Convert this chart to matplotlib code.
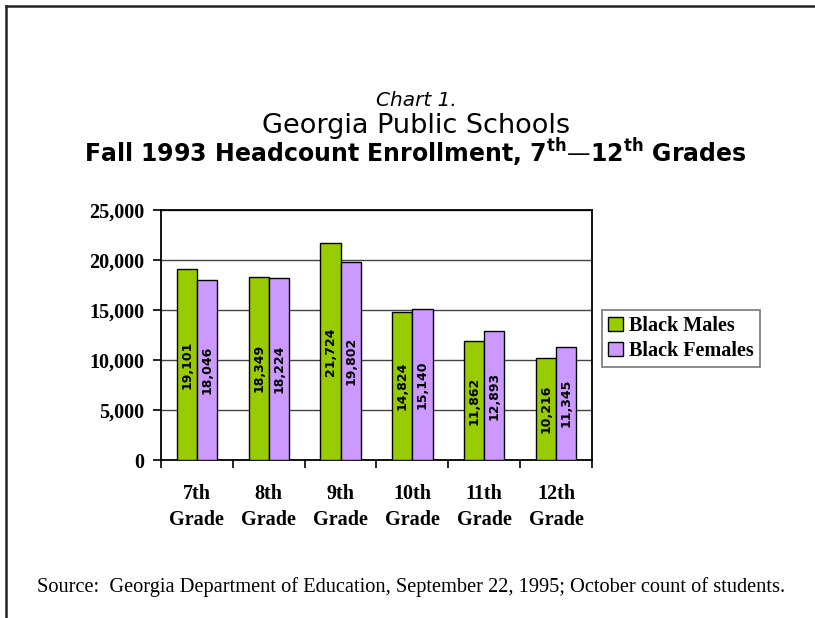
import matplotlib.pyplot as plt
import numpy as np
from matplotlib.lines import Line2D

# Fall 1993 headcount by grade
grades = ["7th\nGrade", "8th\nGrade", "9th\nGrade", "10th\nGrade", "11th\nGrade", "12th\nGrade"]
black_males = [19101, 18349, 21724, 14824, 11862, 10216]
black_females = [18046, 18224, 19802, 15140, 12893, 11345]
y_ticks = [0, 5000, 10000, 15000, 20000, 25000]

GREEN = "#99cc00"
PURPLE = "#cc99ff"
SERIF = "Liberation Serif"
SANS = "DejaVu Sans"

fig = plt.figure(figsize=(8.15, 6.18), dpi=100, facecolor="white")

# page frame (top and left edges only)
fig.add_artist(Line2D([6 / 815, 1.0], [1 - 6 / 618, 1 - 6 / 618],
                      transform=fig.transFigure, color="#222222", lw=1.8))
fig.add_artist(Line2D([6 / 815, 6 / 815], [1 - 6 / 618, 0.0],
                      transform=fig.transFigure, color="#222222", lw=1.8))

ax = fig.add_axes([161 / 815, 1 - 460 / 618, 431 / 815, 250 / 618])

x = np.arange(len(grades))
width = 0.28

bars_m = ax.bar(x - width / 2, black_males, width, color=GREEN,
                edgecolor="black", linewidth=1.0, label="Black Males", zorder=3)
bars_f = ax.bar(x + width / 2, black_females, width, color=PURPLE,
                edgecolor="black", linewidth=1.0, label="Black Females", zorder=3)

for bars, values in ((bars_m, black_males), (bars_f, black_females)):
    for bar, value in zip(bars, values):
        ax.text(
            bar.get_x() + bar.get_width() / 2,
            value / 2,
            f"{value:,}",
            rotation=90,
            ha="center",
            va="center",
            fontsize=9,
            fontweight="bold",
            family=SANS,
            color="black",
            zorder=4,
        )

ax.set_xlim(-0.5, len(grades) - 0.5)
ax.set_ylim(0, 25000)

ax.set_yticks(y_ticks)
ax.set_yticklabels([f"{v:,}" for v in y_ticks], fontsize=14.5,
                   fontweight="bold", family=SERIF)
ax.tick_params(axis="y", direction="out", length=6, width=1.2, pad=6)

# boundary ticks between groups, labels sit at group centres
ax.set_xticks(np.arange(-0.5, len(grades), 1.0))
ax.set_xticklabels([])
ax.tick_params(axis="x", which="major", direction="out", length=6, width=1.2)
ax.set_xticks(x, minor=True)
ax.set_xticklabels(grades, minor=True, fontsize=14.5, fontweight="bold",
                   family=SERIF, linespacing=1.45)
ax.tick_params(axis="x", which="minor", length=0, pad=17)

ax.grid(axis="y", color="#444444", linewidth=1.0, zorder=0)
for spine in ax.spines.values():
    spine.set_color("black")
    spine.set_linewidth(1.3)

leg = fig.legend(
    handles=[bars_m, bars_f],
    loc="upper left",
    bbox_to_anchor=(602 / 815, 1 - 310 / 618),
    frameon=True,
    fancybox=False,
    edgecolor="#555555",
    prop={"family": SERIF, "weight": "bold", "size": 14.5},
    handlelength=0.75,
    handleheight=0.75,
    handletextpad=0.3,
    borderpad=0.3,
    labelspacing=0.25,
    borderaxespad=0.0,
)
leg.get_frame().set_linewidth(1.2)

fig.text(0.511, 1 - 100 / 618, "Chart 1.", ha="center", va="center",
         fontsize=14.5, style="italic", family=SANS)
fig.text(0.511, 1 - 126 / 618, "Georgia Public Schools", ha="center",
         va="center", fontsize=19.5, family=SANS)
fig.text(0.510, 1 - 153 / 618,
         r"Fall 1993 Headcount Enrollment, 7$^{\mathbf{th}}$—12$^{\mathbf{th}}$ Grades",
         ha="center", va="center", fontsize=17, fontweight="bold", family=SANS)

fig.text(37 / 815, 1 - 587 / 618,
         "Source:  Georgia Department of Education, September 22, 1995; "
         "October count of students.",
         ha="left", va="center", fontsize=14.7, family=SERIF)

fig.savefig("out.png", dpi=100, facecolor="white")
